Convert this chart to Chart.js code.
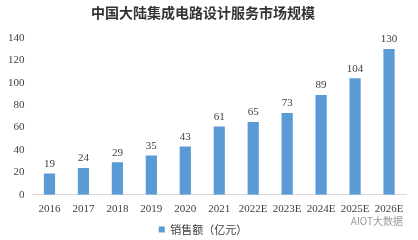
<!DOCTYPE html>
<html>
<head>
<meta charset="utf-8">
<script src="https://cdn.jsdelivr.net/npm/chart.js@4"></script>
<style>
  html, body { margin: 0; padding: 0; background: #fff; }
  #wrap { width: 418px; height: 240px; }
</style>
</head>
<body>
<div id="wrap"><canvas id="chart" width="418" height="240"></canvas></div>
<script>
const years = ['2016', '2017', '2018', '2019', '2020', '2021', '2022E', '2023E', '2024E', '2025E', '2026E'];
const sales = [19, 24, 29, 35, 43, 61, 65, 73, 89, 104, 130];
const yTicks = [0, 20, 40, 60, 80, 100, 120, 140];

// Value labels above bars
const barLabels = {
  id: 'barLabels',
  afterDatasetsDraw(chart) {
    const ctx = chart.ctx;
    const meta = chart.getDatasetMeta(0);
    ctx.save();
    ctx.font = '11px "Liberation Serif"';
    ctx.fillStyle = '#404040';
    ctx.textAlign = 'center';
    ctx.textBaseline = 'bottom';
    meta.data.forEach((bar, i) => {
      ctx.fillText(sales[i], bar.x, bar.y - 4);
    });
    ctx.restore();
  }
};

// Watermark in the corner
const watermark = {
  id: 'watermark',
  afterDraw(chart) {
    const ctx = chart.ctx;
    ctx.save();
    ctx.font = '10px "Noto Sans CJK SC"';
    ctx.fillStyle = '#9a9a9a';
    ctx.textAlign = 'right';
    ctx.textBaseline = 'middle';
    ctx.fillText('AIOT大数据', 403, 221);
    ctx.restore();
  }
};

new Chart(document.getElementById('chart'), {
  type: 'bar',
  data: {
    labels: years,
    datasets: [{
      label: '销售额（亿元）',
      data: sales,
      backgroundColor: '#5B9BD5',
      barPercentage: 0.33,
      categoryPercentage: 1
    }]
  },
  options: {
    responsive: false,
    animation: false,
    layout: { padding: { left: 0, right: 12, top: 2, bottom: -5 } },
    plugins: {
      title: {
        display: true,
        text: '中国大陆集成电路设计服务市场规模',
        font: { family: '"Noto Sans CJK SC"', size: 14, weight: 'bold' },
        color: '#333333',
        padding: { top: 2, bottom: 17 }
      },
      legend: {
        position: 'bottom',
        labels: {
          boxWidth: 6,
          boxHeight: 6,
          padding: 0,
          color: '#404040',
          font: { family: '"Noto Sans CJK SC"', size: 11 }
        }
      },
      tooltip: { enabled: false }
    },
    scales: {
      x: {
        grid: { display: false, drawTicks: false },
        border: { color: '#d9d9d9' },
        ticks: {
          color: '#404040',
          font: { family: '"Liberation Serif"', size: 11 },
          maxRotation: 0,
          autoSkip: false,
          padding: 8
        }
      },
      y: {
        min: 0,
        max: 140,
        afterBuildTicks(axis) { axis.ticks = yTicks.map(v => ({ value: v })); },
        grid: { display: false, drawTicks: false },
        border: { display: false },
        ticks: {
          color: '#404040',
          font: { family: '"Liberation Serif"', size: 11 },
          padding: 8
        }
      }
    }
  },
  plugins: [barLabels, watermark]
});
</script>
</body>
</html>
